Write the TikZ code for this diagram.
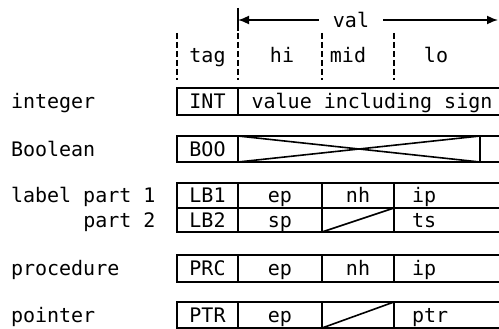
\documentclass[tikz,border=0pt]{standalone}
\usepackage{fontspec}
\newfontfamily\mono{DejaVu Sans Mono}
\usetikzlibrary{arrows.meta}
\begin{document}
\begin{tikzpicture}[x=1pt,y=-1pt,
  txt/.style={font=\mono\fontsize{20}{24}\selectfont, inner sep=0pt, outer sep=0pt, text height=14.6pt, text depth=0pt},
  cell/.style={txt, draw, line width=1.8pt, rectangle},
  tagc/.style={cell, minimum width=61pt},
  epc/.style={cell, minimum width=84pt},
  nhc/.style={cell, minimum width=72pt},
  lastc/.style={cell, minimum width=112pt, text width=76pt, align=left},
  guide/.style={line width=1.8pt, dash pattern=on 6pt off 3pt},
  rule/.style={line width=1.8pt},
  diag/.style={line width=1.6pt},
  arr/.style={line width=1.6pt, -{Latex[length=11pt,width=9pt]}},
  lbl/.style={txt, anchor=west}]
\useasboundingbox (0,0) rectangle (499,329);
\clip (0,0) rectangle (499,329);

% header
\node[txt] (tag) at (207.5,55.5) {tag};
\node[txt] (hi) at (282,55.5) {hi};
\node[txt] (mid) at (348,55.5) {mid};
\node[txt] (lo) at (436,55.5) {lo};
\node[txt, inner xsep=14pt] (val) at (351,20) {val};
\coordinate (vL) at (238,20);
\coordinate (vR) at (498,20);
\draw[arr] (val.west) -- (vL);
\draw[arr] (val.east) -- (vR);
\draw[rule] (238,8) -- (238,31);
\foreach \x in {177,238,322,394}
  \draw[guide] (\x,33) -- (\x,80);

% left labels
\node[lbl] (Lint) at (11,101.5) {integer};
\node[lbl] (Lboo) at (11,149) {Boolean};
\node[lbl] (Llb1) at (11,195.5) {label part 1};
\node[txt, anchor=east] (Llb2) at (155.5,220) {part 2};
\node[lbl] (Lprc) at (11,268.5) {procedure};
\node[lbl] (Lptr) at (11,315) {pointer};

% integer
\node[tagc, minimum height=27pt] (int) at (207.5,101.5) {INT};
\node[cell, minimum width=268pt, minimum height=27pt] (intv) at (372,101.5) {value including sign};

% Boolean
\node[tagc, minimum height=26pt] (boo) at (207.5,149) {BOO};
\node[cell, minimum width=242pt, minimum height=26pt] (boox) at (359,149) {};
\node[cell, minimum width=26pt, minimum height=26pt] (booe) at (493,149) {};
\draw[diag] (boox.north west) -- (boox.south east);
\draw[diag] (boox.south west) -- (boox.north east);

% label part 1
\node[tagc, minimum height=25pt] (lb1) at (207.5,195.5) {LB1};
\node[epc, minimum height=25pt] (lb1a) at (280,195.5) {ep};
\node[nhc, minimum height=25pt] (lb1b) at (358,195.5) {nh};
\node[lastc, minimum height=25pt] (lb1c) at (450,195.5) {ip};

% label part 2
\node[tagc, minimum height=24pt] (lb2) at (207.5,220) {LB2};
\node[epc, minimum height=24pt] (lb2a) at (280,220) {sp};
\node[nhc, minimum height=24pt] (lb2b) at (358,220) {};
\node[lastc, minimum height=24pt] (lb2c) at (450,220) {ts};
\draw[diag] (lb2b.south west) -- (lb2b.north east);

% procedure
\node[tagc, minimum height=27pt] (prc) at (207.5,268.5) {PRC};
\node[epc, minimum height=27pt] (prca) at (280,268.5) {ep};
\node[nhc, minimum height=27pt] (prcb) at (358,268.5) {nh};
\node[lastc, minimum height=27pt] (prcc) at (450,268.5) {ip};

% pointer
\node[tagc, minimum height=26pt] (ptr) at (207.5,315) {PTR};
\node[epc, minimum height=26pt] (ptra) at (280,315) {ep};
\node[nhc, minimum height=26pt] (ptrb) at (358,315) {};
\node[lastc, minimum height=26pt] (ptrc) at (450,315) {ptr};
\draw[diag] (ptrb.south west) -- (ptrb.north east);
\end{tikzpicture}
\end{document}
